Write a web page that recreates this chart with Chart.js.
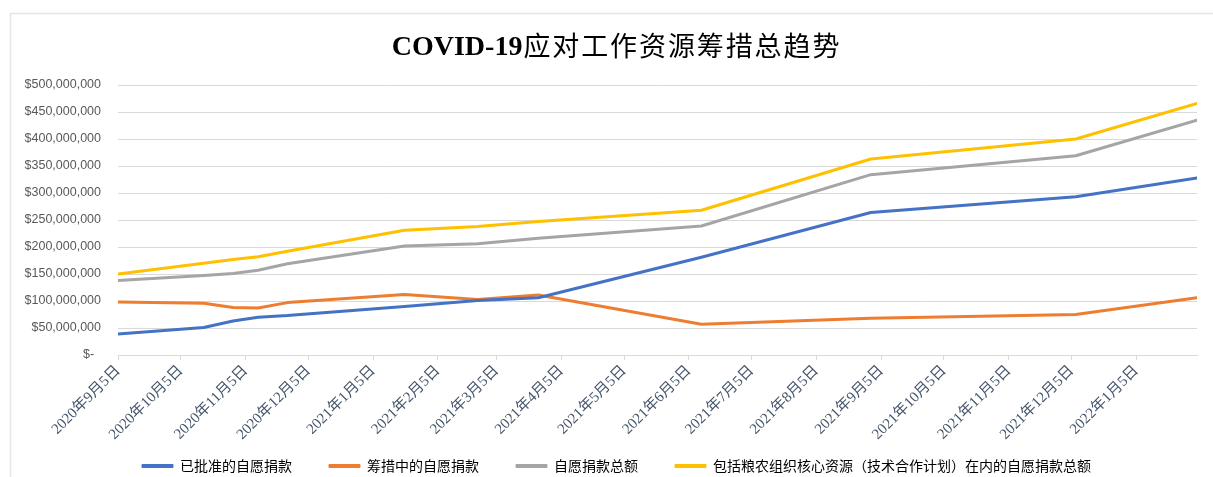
<!DOCTYPE html>
<html><head><meta charset="utf-8">
<script src="https://cdn.jsdelivr.net/npm/chart.js@4/dist/chart.umd.min.js"></script>
<style>html,body{margin:0;padding:0;background:#fff}</style>
</head><body>
<canvas id="c" width="1213" height="477"></canvas>
<script>
// ---- data ----
const dates = ['2020-09-05','2020-10-16','2020-10-30','2020-11-11','2020-11-25','2021-01-20','2021-02-24','2021-03-25','2021-06-11','2021-08-31','2021-12-07','2022-02-03'];
const approved = [39e6, 51e6, 63e6, 70e6, 73e6, 90e6, 101e6, 106e6, 181e6, 264e6, 293e6, 328e6];
const pipeline = [98e6, 96e6, 88e6, 87e6, 97e6, 112e6, 103e6, 111e6, 57e6, 68e6, 75e6, 106e6];
const totalVoluntary = [138e6, 147e6, 151e6, 157e6, 169e6, 202e6, 206e6, 216e6, 239e6, 334e6, 369e6, 435e6];
const totalWithTCP = [150e6, 170e6, 177e6, 182e6, 192e6, 231e6, 238e6, 247e6, 268e6, 363e6, 400e6, 466e6];
const seriesNames = ['已批准的自愿捐款','筹措中的自愿捐款','自愿捐款总额','包括粮农组织核心资源（技术合作计划）在内的自愿捐款总额'];
const tickDates = ['2020-09-05','2020-10-05','2020-11-05','2020-12-05','2021-01-05','2021-02-05','2021-03-05','2021-04-05','2021-05-05','2021-06-05','2021-07-05','2021-08-05','2021-09-05','2021-10-05','2021-11-05','2021-12-05','2022-01-05'];
const yTicks = [0,50e6,100e6,150e6,200e6,250e6,300e6,350e6,400e6,450e6,500e6];
const titleLatin = 'COVID-19';
const titleCJK = '应对工作资源筹措总趋势';

// ---- helpers ----
function dayNum(s){const p=s.split('-').map(Number);return Date.UTC(p[0],p[1]-1,p[2])/86400000;}
function fmtDay(v){const dt=new Date(Math.round(v)*86400000);return dt.getUTCFullYear()+'年'+(dt.getUTCMonth()+1)+'月'+dt.getUTCDate()+'日';}
function fmtMoney(v){return v===0?'$-  ':'$'+v.toLocaleString('en-US');}
const colors=['#4472C4','#ED7D31','#A5A5A5','#FFC000'];
const seriesVals=[approved,pipeline,totalVoluntary,totalWithTCP];

const datasets=seriesVals.map((vals,i)=>({
  label:seriesNames[i],
  data:vals.map((v,j)=>({x:dayNum(dates[j]),y:v})),
  borderColor:colors[i],backgroundColor:colors[i],
  borderWidth:3,pointRadius:0,tension:0,
  borderJoinStyle:'round',borderCapStyle:'round'
}));

const LEGEND_PAD=37, LEGEND_H=32, LEGEND_DX=105, LEGEND_DY=-23;

const framePlugin={id:'frame',beforeDraw(chart){const c=chart.ctx;c.save();c.fillStyle='#fff';c.fillRect(0,0,chart.width,chart.height);c.strokeStyle='#E4E4EA';c.lineWidth=1.5;c.beginPath();c.moveTo(10.5,chart.height);c.lineTo(10.5,13.5);c.lineTo(chart.width,13.5);c.stroke();c.restore();}};
const titlePlugin={id:'ttl',afterDraw(chart){const c=chart.ctx;c.save();c.fillStyle='#000';c.textBaseline='alphabetic';c.textAlign='left';
  c.font='bold 28px "Liberation Serif"';const w1=c.measureText(titleLatin).width;
  const adv=28.9, chars=Array.from(titleCJK);const w2=adv*chars.length;
  const x0=616-(w1+w2)/2;
  c.fillText(titleLatin,x0,55);
  c.font='27px "Noto Sans CJK SC"';
  chars.forEach((ch,i)=>c.fillText(ch,x0+w1+1+i*adv,56));
  c.restore();}};
const legendTweak={id:'legendTweak',afterInit(chart){const lg=chart.legend;if(!lg)return;const of=lg.fit.bind(lg);lg.fit=function(){of();this.height=LEGEND_H;};
  const od=lg.draw.bind(lg);lg.draw=function(){const s={t:this.top,b:this.bottom,l:this.left,r:this.right};
    this.top=s.t+LEGEND_DY;this.bottom=chart.height;this.left=s.l+LEGEND_DX;this.right=s.r+LEGEND_DX;
    od();
    this.top=s.t;this.bottom=s.b;this.left=s.l;this.right=s.r;};}};

new Chart(document.getElementById('c'),{
  type:'line',
  data:{datasets},
  options:{
    responsive:false,animation:false,devicePixelRatio:1,
    layout:{padding:{top:85,right:16,left:0,bottom:0}},
    plugins:{
      title:{display:false},tooltip:{enabled:false},
      legend:{position:'bottom',align:'start',labels:{boxWidth:31,boxHeight:3,padding:LEGEND_PAD,color:'#595959',font:{family:'"Noto Sans CJK SC"',size:14},
        generateLabels(chart){return chart.data.datasets.map((d,i)=>({text:d.label,fillStyle:d.borderColor,strokeStyle:d.borderColor,lineWidth:1,hidden:false,datasetIndex:i}));}}}
    },
    scales:{
      x:{type:'linear',min:dayNum(dates[0]),max:dayNum(dates[dates.length-1]),
        afterBuildTicks(s){s.ticks=tickDates.map(d=>({value:dayNum(d)}));},
        afterFit(s){s.height=90;},
        grid:{display:true,drawOnChartArea:false,drawTicks:true,tickLength:5,color:'#D9D9D9'},
        border:{display:true,color:'#D9D9D9'},
        ticks:{autoSkip:false,minRotation:45,maxRotation:45,padding:2,color:'#44546A',font:{family:'"Liberation Serif","Noto Sans CJK SC"',size:15},callback:v=>fmtDay(v)}
      },
      y:{min:0,max:500e6,
        afterBuildTicks(s){s.ticks=yTicks.map(v=>({value:v}));},
        afterFit(s){s.width=118;},
        grid:{color:'#D9D9D9',drawTicks:false},border:{display:false},
        ticks:{padding:17,color:'#595959',font:{family:'"Liberation Sans"',size:12.5},callback:v=>fmtMoney(v)}
      }
    }
  },
  plugins:[framePlugin,titlePlugin,legendTweak]
});
</script>
</body></html>
